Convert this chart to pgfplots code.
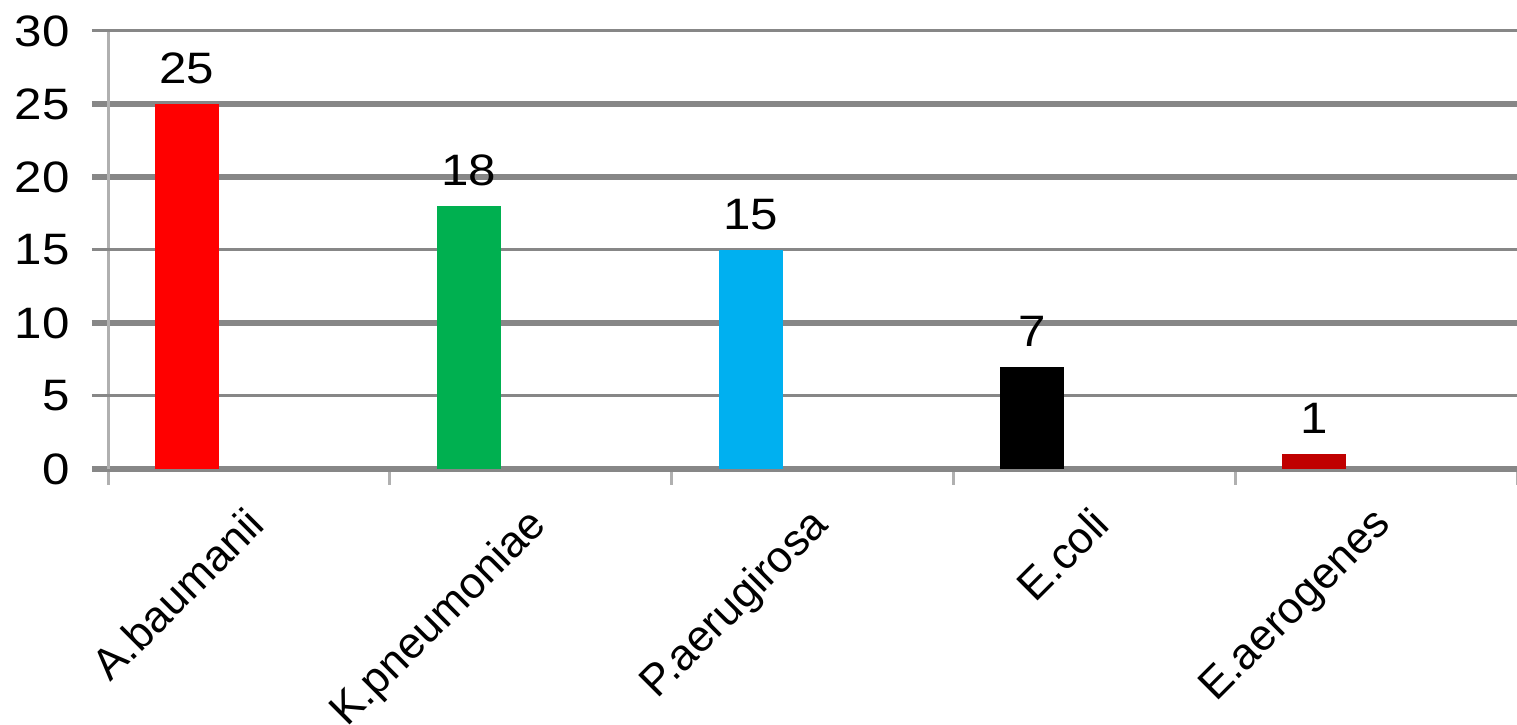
\documentclass[border=0pt]{standalone}
\usepackage{fontspec}
\setmainfont{Liberation Sans}
\newfontfamily\widefont[FakeStretch=1.12]{Liberation Sans}
\usepackage{pgfplots}
\pgfplotsset{compat=1.18}
\definecolor{gridc}{HTML}{878787}
\definecolor{axc}{HTML}{B0B0B0}
\definecolor{cgreen}{HTML}{00B050}
\definecolor{cblue}{HTML}{00B0F0}
\definecolor{cdred}{HTML}{C00000}
\newcommand{\lblfont}{\widefont\fontsize{22}{26}\selectfont}
\newcommand{\xlblfont}{\fontsize{22}{26}\selectfont}
\begin{document}
\begin{tikzpicture}
\begin{axis}[
  name=ax,
  scale only axis, width=704.5pt, height=219pt,
  xmin=-0.28, xmax=4.72, ymin=0, ymax=30,
  axis x line*=bottom, axis y line*=left,
  x axis line style={draw=gridc, line width=3pt},
  y axis line style={draw=axc, line width=1.5pt},
  tick align=outside,
  major tick length=8pt,
  /pgf/number format/assume math mode=true,
  ytick={0,10,20,25},
  ymajorgrids=true,
  major grid style={draw=gridc, line width=3pt},
  every major y tick/.append style={draw=gridc, line width=3pt},
  extra y ticks={5,15,30},
  extra y tick style={ymajorgrids=true,
     major grid style={draw=gridc, line width=1.5pt},
     every major y tick/.append style={draw=gridc, line width=1.5pt}},
  yticklabel style={font=\lblfont, inner sep=0pt, anchor=east, xshift=-11pt},
  xtick={-0.28,0.72,1.72,2.72,3.72,4.72}, xticklabels={},
  every major x tick/.append style={draw=axc, line width=1.5pt},
  extra x ticks={0.22,1.22,2.22,3.22,4.22},
  extra x tick labels={A.baumanii,K.pneumoniae,P.aerugirosa,E.coli,E.aerogenes},
  extra x tick style={major tick length=0pt, xmajorgrids=false,
     every major x tick/.append style={draw=none},
     xticklabel style={font=\xlblfont, xshift=-2.5pt, yshift=-17.5pt, rotate=45, anchor=north east, inner sep=0pt}},
  nodes near coords style={font=\lblfont, anchor=south, inner sep=0pt, yshift=10pt},
]
\addplot[ybar, bar shift=0pt, bar width=32pt, fill=red, draw=none, nodes near coords] coordinates {(0,25)};
\addplot[ybar, bar shift=0pt, bar width=32pt, fill=cgreen, draw=none, nodes near coords] coordinates {(1,18)};
\addplot[ybar, bar shift=0pt, bar width=32pt, fill=cblue, draw=none, nodes near coords] coordinates {(2,15)};
\addplot[ybar, bar shift=0pt, bar width=32pt, fill=black, draw=none, nodes near coords] coordinates {(3,7)};
\addplot[ybar, bar shift=0pt, bar width=32pt, fill=cdred, draw=none, nodes near coords] coordinates {(4,1)};
\end{axis}
\pgfresetboundingbox
\path ([xshift=-54pt, yshift=15.5pt]ax.north west) rectangle ([yshift=-128pt]ax.south east);
\end{tikzpicture}
\end{document}
